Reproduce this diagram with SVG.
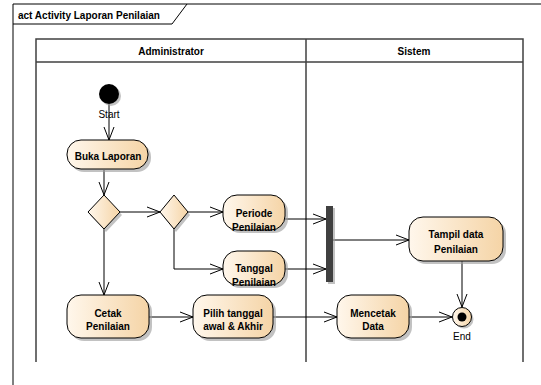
<svg xmlns="http://www.w3.org/2000/svg" width="541" height="385" viewBox="0 0 541 385">
  <defs>
    <linearGradient id="nodeFill" x1="0" y1="0" x2="1" y2="0">
      <stop offset="0" stop-color="#FFF7EC"/>
      <stop offset="1" stop-color="#F5D4A6"/>
    </linearGradient>
    <marker id="open" markerUnits="userSpaceOnUse" markerWidth="14" markerHeight="12" refX="13" refY="6" orient="auto">
      <path d="M0,1 L13,6 L0,11" fill="none" stroke="#000" stroke-width="1"/>
    </marker>
  </defs>
  <style>
    .frame { fill: none; stroke: #000; stroke-width: 1; }
    .lane { fill: none; stroke: #404040; stroke-width: 1.5; }
    .shadow { fill: #9a9a9a; opacity: 0.6; }
    .act { fill: url(#nodeFill); stroke: #000; stroke-width: 1; }
    .lbl { font-family: "Liberation Sans", Arial, sans-serif; font-size: 10px; font-weight: bold; fill: #000; text-anchor: middle; }
    .plain { font-family: "Liberation Sans", Arial, sans-serif; font-size: 10px; fill: #000; text-anchor: middle; }
    .title { font-family: "Liberation Sans", Arial, sans-serif; font-size: 10px; font-weight: bold; fill: #000; }
    .flow { fill: none; stroke: #000; stroke-width: 1; marker-end: url(#open); }
  </style>
  <rect width="541" height="385" fill="#fff"/>

  <!-- diagram frame with name tab -->
  <g id="frame">
    <path class="frame" d="M13,385 L13,4 L541,4"/>
    <path class="frame" d="M13,24 L172,24 L187,4"/>
    <text class="title" x="18" y="19">act Activity Laporan Penilaian</text>
  </g>

  <!-- swimlanes -->
  <g id="lanes">
    <path class="lane" d="M36,362 L36,39 L523,39 L523,362"/>
    <line class="lane" x1="36" y1="62" x2="523" y2="62"/>
    <line class="lane" x1="306" y1="39" x2="306" y2="362"/>
    <text class="lbl" x="171" y="54.5">Administrator</text>
    <text class="lbl" x="414" y="54.5">Sistem</text>
  </g>

  <!-- connectors -->
  <g id="connectors">
    <line class="flow" x1="109" y1="104" x2="109" y2="140"/>
    <line class="flow" x1="104" y1="170" x2="104" y2="195"/>
    <line class="flow" x1="120" y1="212" x2="160" y2="212"/>
    <line class="flow" x1="104" y1="229" x2="104" y2="295"/>
    <line class="flow" x1="188" y1="212" x2="223" y2="212"/>
    <polyline class="flow" points="174,226 174,269 223,269"/>
    <line class="flow" x1="285" y1="219" x2="326" y2="219"/>
    <line class="flow" x1="285" y1="269" x2="326" y2="269"/>
    <line class="flow" x1="333" y1="240" x2="409" y2="240"/>
    <line class="flow" x1="462" y1="261" x2="462" y2="307"/>
    <line class="flow" x1="149" y1="317" x2="193" y2="317"/>
    <line class="flow" x1="273" y1="317" x2="337" y2="317"/>
    <line class="flow" x1="409" y1="317" x2="452" y2="317"/>
  </g>

  <g id="start">
    <circle cx="111" cy="96" r="10" class="shadow"/>
    <circle cx="109" cy="94" r="10" fill="#000"/>
    <text class="plain" x="109" y="117.5">Start</text>
  </g>

  <g id="buka-laporan">
    <rect class="shadow" x="70" y="143" width="81" height="29" rx="14"/>
    <rect class="act" x="67" y="140" width="81" height="29" rx="14"/>
    <text class="lbl" x="108" y="159.5">Buka Laporan</text>
  </g>

  <g id="decision-1">
    <polygon class="shadow" points="106,198 122,215 106,232 90,215"/>
    <polygon class="act" points="104,195 120,212 104,229 88,212"/>
  </g>

  <g id="decision-2">
    <polygon class="shadow" points="176,198 190,215 176,232 162,215"/>
    <polygon class="act" points="174,195 188,212 174,229 160,212"/>
  </g>

  <g id="periode-penilaian">
    <rect class="shadow" x="226" y="198" width="62" height="35" rx="14"/>
    <rect class="act" x="223" y="195" width="62" height="35" rx="14"/>
    <text class="lbl" x="254" y="217">Periode</text>
    <text class="lbl" x="254" y="231">Penilaian</text>
  </g>

  <g id="tanggal-penilaian">
    <rect class="shadow" x="226" y="254" width="62" height="34" rx="14"/>
    <rect class="act" x="223" y="251" width="62" height="34" rx="14"/>
    <text class="lbl" x="254" y="271.5">Tanggal</text>
    <text class="lbl" x="254" y="285.5">Penilaian</text>
  </g>

  <g id="fork">
    <rect class="shadow" x="328" y="208" width="7" height="76"/>
    <rect x="326" y="206" width="7" height="76" fill="#404040"/>
  </g>

  <g id="tampil-data">
    <rect class="shadow" x="412" y="220" width="94" height="44" rx="14"/>
    <rect class="act" x="409" y="217" width="94" height="44" rx="14"/>
    <text class="lbl" x="456" y="237.5">Tampil data</text>
    <text class="lbl" x="456" y="252.5">Penilaian</text>
  </g>

  <g id="cetak-penilaian">
    <rect class="shadow" x="70" y="298" width="82" height="43" rx="14"/>
    <rect class="act" x="67" y="295" width="82" height="43" rx="14"/>
    <text class="lbl" x="108" y="316.5">Cetak</text>
    <text class="lbl" x="108" y="330">Penilaian</text>
  </g>

  <g id="pilih-tanggal">
    <rect class="shadow" x="196" y="298" width="80" height="43" rx="14"/>
    <rect class="act" x="193" y="295" width="80" height="43" rx="14"/>
    <text class="lbl" x="233" y="316.5">Pilih tanggal</text>
    <text class="lbl" x="233" y="330">awal &amp; Akhir</text>
  </g>

  <g id="mencetak-data">
    <rect class="shadow" x="340" y="298" width="72" height="43" rx="14"/>
    <rect class="act" x="337" y="295" width="72" height="43" rx="14"/>
    <text class="lbl" x="373" y="316.5">Mencetak</text>
    <text class="lbl" x="373" y="330">Data</text>
  </g>

  <g id="end">
    <circle class="shadow" cx="464" cy="319" r="9.5"/>
    <circle class="act" cx="462" cy="317" r="9.5"/>
    <circle cx="462" cy="317" r="4.5" fill="#000"/>
    <text class="plain" x="462" y="339.5">End</text>
  </g>
</svg>
